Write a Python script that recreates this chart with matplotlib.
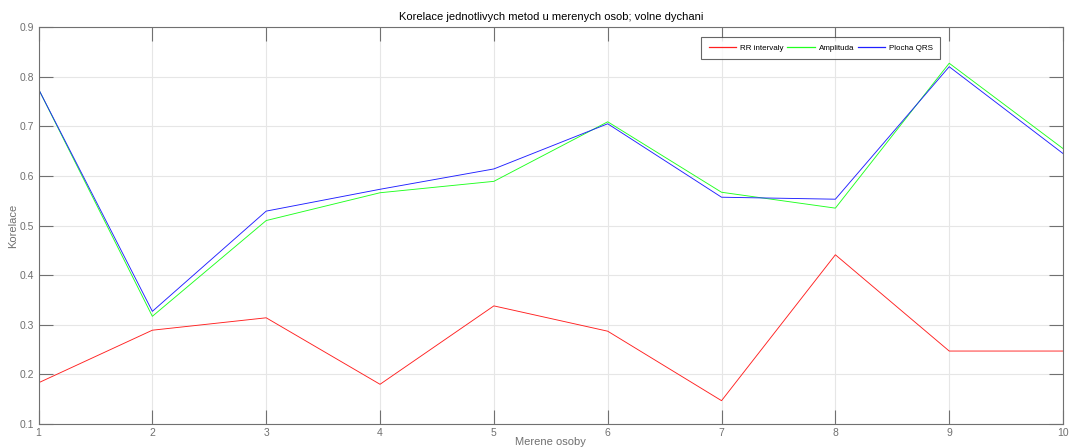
import matplotlib
matplotlib.use("Agg")
from matplotlib import pyplot as plt

# data
osoby = [1, 2, 3, 4, 5, 6, 7, 8, 9, 10]
rr_intervaly = [0.183, 0.289, 0.314, 0.180, 0.338, 0.287, 0.147, 0.441, 0.247, 0.247]
amplituda = [0.775, 0.317, 0.510, 0.566, 0.589, 0.709, 0.567, 0.535, 0.827, 0.655]
plocha_qrs = [0.775, 0.327, 0.529, 0.573, 0.614, 0.705, 0.557, 0.553, 0.820, 0.645]
y_ticks = [0.1, 0.2, 0.3, 0.4, 0.5, 0.6, 0.7, 0.8, 0.9]

plt.rcParams['font.family'] = ['Liberation Sans', 'DejaVu Sans']

fig = plt.figure(figsize=(10.7, 4.48), dpi=100)
ax = fig.add_axes([0.036, 0.0536, 0.9575, 0.8861])

ax.plot(osoby, rr_intervaly, color='#ff2020', lw=0.65, label='RR intervaly')
ax.plot(osoby, amplituda, color='#20ff20', lw=0.65, label='Amplituda')
ax.plot(osoby, plocha_qrs, color='#2020ff', lw=0.65, label='Plocha QRS')

ax.set_xlim(1, 10)
ax.set_ylim(0.1, 0.9)
ax.set_xticks(osoby)
ax.set_yticks(y_ticks)
ax.set_yticklabels([str(v) for v in y_ticks])
ax.grid(True, color='#e6e6e6', lw=0.8)
ax.set_axisbelow(True)

for s in ax.spines.values():
    s.set_color('#707070')
    s.set_linewidth(0.8)
ax.tick_params(direction='in', top=True, right=True, length=10, width=0.8,
               color='#707070', labelcolor='#707070', labelsize=7.5, pad=3)

ax.set_title('Korelace jednotlivych metod u merenych osob; volne dychani',
             fontsize=8, pad=5)
ax.set_xlabel('Merene osoby', fontsize=8, color='#707070', labelpad=-1)
ax.set_ylabel('Korelace', fontsize=8, color='#707070', labelpad=1)

leg = ax.legend(loc='upper left', bbox_to_anchor=(0.647, 0.975), ncol=3,
                fontsize=5.8, frameon=True, fancybox=False, handlelength=3.4,
                columnspacing=0.45, handletextpad=0.5, borderpad=0.9,
                borderaxespad=0)
leg.get_frame().set_edgecolor('#404040')
leg.get_frame().set_linewidth(0.8)
for line in leg.get_lines():
    line.set_linewidth(0.9)

fig.savefig('out.png', dpi=100)
